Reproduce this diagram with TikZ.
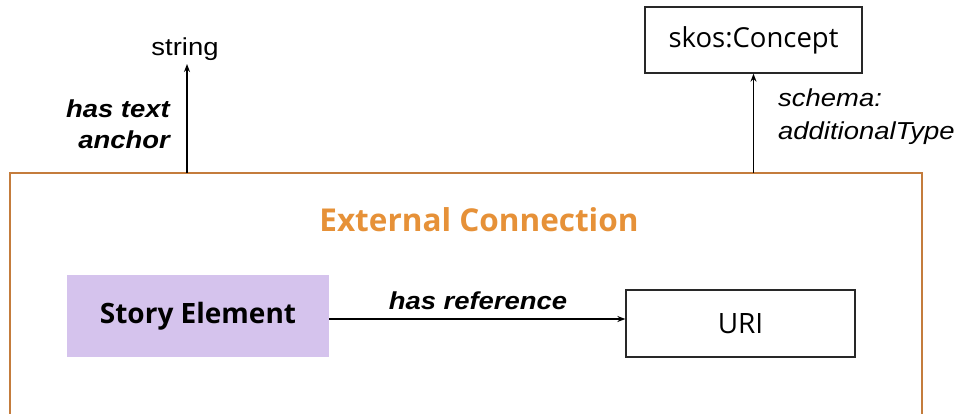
\documentclass[tikz,border=0pt]{standalone}
\usepackage{fontspec}
\setmainfont{Liberation Sans}[FakeStretch=1.12]
\newfontfamily\opensans{Open Sans}
\usetikzlibrary{arrows.meta}
\definecolor{framec}{RGB}{196,124,60}
\definecolor{titlec}{RGB}{230,145,56}
\definecolor{lav}{RGB}{213,195,237}
\definecolor{boxc}{RGB}{40,40,40}
\tikzset{
  conn/.style={draw=black, line width=1.3pt, -{Stealth[length=8pt,width=6pt]}},
  whitebox/.style={draw=boxc, line width=1.3pt, fill=white, inner sep=0pt},
  lbl/.style={inner sep=0pt},
}
\begin{document}
\begin{tikzpicture}[x=1pt,y=-1pt]
\useasboundingbox (0,0) rectangle (955,414);
% frame
\draw[framec, line width=2pt] (10,416) -- (10,173) -- (922,173) -- (922,416);
\node[font=\opensans\bfseries\fontsize{31.5}{36}\selectfont, text=titlec] (title) at (479,220) {External Connection};
% nodes
\node[fill=lav, minimum width=262pt, minimum height=82pt, inner sep=0pt,
      font=\opensans\bfseries\fontsize{28}{32}\selectfont] (story) at (198,316) {Story Element};
\node[whitebox, minimum width=229pt, minimum height=67pt, font=\opensans\fontsize{28}{32}\selectfont] (uri) at (740.5,323.5) {URI};
\node[whitebox, minimum width=217pt, minimum height=66pt, font=\opensans\fontsize{27.5}{32}\selectfont] (skos) at (753.5,40) {skos:Concept};
\node[font=\fontsize{24.5}{28}\selectfont, inner sep=0pt, text depth=0pt] (string) at (185,47) {string};
% anchors on frame
\coordinate (ta) at (187,173);
\coordinate (st) at (187,64);
\coordinate (sk) at (753.5,173);
% connectors
\draw[conn] ([yshift=-3pt]story.east) -- ([yshift=4.5pt]uri.west);
\draw[conn] (ta) -- (st);
\draw[conn] (sk) -- (skos.south);
% labels
\node[lbl, font=\bfseries\itshape\fontsize{24.5}{31}\selectfont, anchor=south] (lref) at (478,310) {has reference};
\node[lbl, font=\bfseries\itshape\fontsize{24.5}{31}\selectfont, align=right, anchor=east] (lanchor) at (170,124) {has text\\anchor};
\node[lbl, font=\itshape\fontsize{24.5}{33}\selectfont, align=left, anchor=west] (lschema) at (778,117) {schema:\\additionalType};
\end{tikzpicture}
\end{document}
